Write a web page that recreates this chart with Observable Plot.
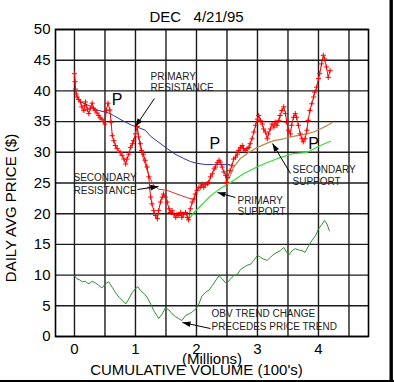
<!DOCTYPE html>
<html><head><meta charset="utf-8">
<script src="https://cdn.jsdelivr.net/npm/d3@7"></script>
<script src="https://cdn.jsdelivr.net/npm/@observablehq/plot@0.6"></script>
<style>body{margin:0;background:#fff}#chart svg{display:block}</style>
</head><body><div id="chart"></div>
<script>
// ---- data (cumulative volume in millions, price in $) ----
const priceVol = [0.00,0.01,0.016,0.03,0.044,0.07,0.098,0.12,0.153,0.17,0.18,0.21,0.235,0.26,0.29,0.31,0.34,0.37,0.40,0.42,0.45,0.48,0.50,0.52,0.55,0.58,0.60,0.62,0.645,0.67,0.70,0.75,0.78,0.81,0.84,0.86,0.89,0.92,0.95,0.97,1.00,1.03,1.05,1.08,1.10,1.13,1.16,1.19,1.22,1.23,1.25,1.27,1.30,1.33,1.36,1.38,1.41,1.44,1.46,1.49,1.52,1.55,1.57,1.60,1.63,1.66,1.68,1.71,1.74,1.76,1.79,1.82,1.85,1.87,1.90,1.93,1.96,1.98,2.01,2.04,2.07,2.09,2.12,2.15,2.18,2.20,2.23,2.26,2.29,2.31,2.34,2.37,2.39,2.42,2.45,2.48,2.49,2.51,2.55,2.58,2.61,2.64,2.67,2.69,2.72,2.75,2.77,2.80,2.83,2.86,2.88,2.91,2.94,2.97,3.00,3.02,3.05,3.08,3.10,3.13,3.16,3.18,3.21,3.24,3.27,3.29,3.32,3.35,3.37,3.40,3.43,3.46,3.48,3.51,3.54,3.56,3.59,3.62,3.64,3.67,3.70,3.73,3.75,3.78,3.81,3.83,3.86,3.89,3.92,3.94,3.97,4.00,4.02,4.05,4.08,4.10,4.13,4.16,4.19];
const priceVal = [42.8,41.5,40.3,39.5,39.0,38.6,38.2,37.4,36.8,37.6,38.2,37.0,36.3,37.2,38.0,37.2,36.8,36.4,36.0,35.6,35.4,35.0,34.6,36.8,38.0,36.9,34.9,32.7,31.9,31.1,30.6,30.0,29.5,28.9,28.1,28.9,29.7,30.8,31.4,31.9,33.0,34.2,32.5,31.4,30.3,29.7,28.7,27.6,26.0,24.3,22.7,21.6,20.5,19.7,19.2,20.5,21.9,22.7,23.2,22.7,21.9,20.8,20.2,20.5,19.9,19.4,19.9,19.7,20.2,19.4,19.9,20.2,19.4,19.0,20.8,21.9,22.4,23.2,23.8,24.3,24.3,24.8,24.3,24.8,24.9,25.1,26.0,26.5,27.3,27.6,28.3,28.7,28.4,27.6,26.8,26.2,25.1,25.9,27.0,27.8,28.9,29.2,29.7,30.3,30.8,31.1,30.6,30.3,30.6,30.8,31.4,32.2,33.3,34.4,35.4,36.0,35.2,34.6,33.8,33.3,32.2,33.0,33.8,34.6,34.1,34.9,34.4,35.2,36.0,36.8,37.4,36.3,34.9,33.6,33.0,34.4,35.7,36.3,35.7,34.4,33.0,32.2,31.7,32.2,33.6,35.2,36.8,37.9,39.0,39.8,40.6,42.0,42.8,44.4,45.8,45.2,43.9,42.2,43.3];

const primResVol = [0.06,0.10,0.24,0.40,0.56,0.64,0.78,0.94,1.03,1.16,1.25,1.33,1.52,1.65,1.79,1.90,2.01,2.15,2.28,2.55];
const primResVal = [38.8,38.2,37.6,36.8,36.4,36.0,35.2,34.4,34.1,33.6,32.6,32.0,30.6,29.7,29.0,28.5,28.2,28.0,28.0,28.0];

const secResVol = [1.03,1.08,1.12,1.16,1.22,1.30,1.38,1.52,1.68,1.85,1.96];
const secResVal = [33.8,30.8,29.2,28.1,26.2,24.6,24.0,23.8,23.2,22.6,22.3];

const primSupVol = [1.87,1.96,2.07,2.23,2.39,2.56,2.77,3.05,3.33,3.59,3.82,4.03,4.20];
const primSupVal = [19.0,20.2,21.3,22.9,24.1,25.1,26.5,27.9,29.0,29.8,30.0,31.1,31.8];

const secSupVol = [2.53,2.61,2.72,2.86,3.00,3.16,3.27,3.43,3.54,3.70,3.81,3.92,4.03,4.13,4.23];
const secSupVal = [25.6,27.6,29.0,30.0,30.8,31.5,31.9,32.2,32.5,32.8,33.0,33.3,33.8,34.3,34.9];

const obvVol = [0.00,0.04,0.09,0.13,0.18,0.21,0.24,0.29,0.35,0.40,0.45,0.51,0.56,0.62,0.67,0.73,0.78,0.84,0.89,0.95,1.00,1.04,1.08,1.14,1.19,1.25,1.30,1.36,1.38,1.44,1.49,1.55,1.60,1.66,1.71,1.76,1.82,1.88,1.93,1.99,2.04,2.09,2.15,2.21,2.26,2.32,2.37,2.42,2.49,2.56,2.61,2.67,2.72,2.78,2.83,2.89,2.94,3.00,3.05,3.10,3.16,3.21,3.27,3.32,3.38,3.43,3.48,3.51,3.57,3.62,3.67,3.73,3.78,3.84,3.89,3.95,4.00,4.06,4.10,4.14,4.18];
const obvVal = [9.9,9.4,9.2,8.9,9.0,8.7,8.6,9.0,8.7,8.3,7.9,8.6,8.9,8.0,7.2,6.4,5.9,5.3,6.1,7.2,7.8,8.1,7.5,7.0,6.4,5.3,4.2,3.3,2.9,3.7,4.7,4.3,3.7,3.2,2.9,2.6,3.4,3.7,4.0,4.5,5.3,6.6,7.2,7.6,8.3,9.2,9.9,9.4,8.6,9.4,9.9,10.1,10.9,11.3,11.6,11.8,12.4,13.2,12.9,12.6,12.4,12.9,13.4,13.7,14.0,14.5,13.7,13.2,14.0,14.3,14.1,14.0,13.7,14.8,15.6,16.4,17.5,18.3,18.9,18.3,17.2];

const yTicks = [0,5,10,15,20,25,30,35,40,45,50];
const xTicks = [0,1,2,3,4];
const xGrid = [0,0.5,1,1.5,2,2.5,3,3.5,4,4.5];

// annotations
const peakVol = [0.70,2.30,3.92];
const peakVal = [38.6,31.3,31.3];
const noteText = ["PRIMARY","RESISTANCE","SECONDARY","RESISTANCE","PRIMARY","SUPPORT","SECONDARY","SUPPORT","OBV TREND CHANGE","PRECEDES PRICE TREND"];
const noteVol  = [1.246,1.246,-0.016,-0.016,2.672,2.672,3.574,3.574,2.246,2.246];
const noteVal  = [42.35,40.55,25.9,23.8,22.15,20.36,27.2,25.24,3.75,1.63];
const arrFromVol = [1.311,1.033,2.639,3.541,2.23];
const arrFromVal = [38.76,23.94,22.64,26.55,1.30];
const arrToVol   = [1.0,1.377,2.344,3.246,1.77];
const arrToVal   = [34.2,24.43,23.45,31.43,2.28];

// ---- layout ----
const W = 394, H = 382, mL = 55, mR = 26, mT = 29, mB = 46;
const xDomain = [-0.311, 4.82];
const sx = d3.scaleLinear(xDomain, [mL, W - mR]);
const sy = d3.scaleLinear([0, 50], [H - mB, mT]);

const tbl = (xs, ys) => xs.map((x, i) => ({x, y: ys[i]}));
const price = tbl(priceVol, priceVal);
const arrows = arrFromVol.map((x1, i) => {
  const dx = sx(arrToVol[i]) - sx(x1), dy = sy(arrToVal[i]) - sy(arrFromVal[i]);
  return {x1, y1: arrFromVal[i], x2: arrToVol[i], y2: arrToVal[i], rot: Math.atan2(dx, -dy) * 180 / Math.PI};
});
const arrowHead = {draw(ctx) { ctx.moveTo(0, 0); ctx.lineTo(-2.8, 8); ctx.lineTo(2.8, 8); ctx.closePath(); }};

const font = "'Liberation Sans', Arial, Helvetica, sans-serif";
const plot = Plot.plot({
  width: W, height: H,
  marginLeft: mL, marginRight: mR, marginTop: mT, marginBottom: mB,
  x: {domain: xDomain}, y: {domain: [0, 50]},
  style: {fontFamily: font, background: "#fff", color: "#000"},
  marks: [
    Plot.gridX(xGrid, {stroke: "#1c1c1c", strokeOpacity: 1, strokeWidth: 1.4}),
    Plot.gridY(yTicks, {stroke: "#1c1c1c", strokeOpacity: 1, strokeWidth: 1.4}),
    Plot.frame({stroke: "#000", strokeWidth: 1.6}),
    Plot.axisY(yTicks, {tickSize: 0, tickPadding: 5, fontSize: 15, label: null, tickFormat: d => d}),
    Plot.axisX(xTicks, {tickSize: 0, tickPadding: 7, fontSize: 15, label: null, tickFormat: d => d}),
    Plot.line(tbl(obvVol, obvVal), {x: "x", y: "y", stroke: "#2f8f2f", strokeWidth: 1}),
    Plot.line(tbl(primResVol, primResVal), {x: "x", y: "y", stroke: "#33339a", strokeWidth: 1}),
    Plot.line(tbl(secResVol, secResVal), {x: "x", y: "y", stroke: "#dd3030", strokeWidth: 1}),
    Plot.line(tbl(primSupVol, primSupVal), {x: "x", y: "y", stroke: "#33dd33", strokeWidth: 1.2}),
    Plot.line(tbl(secSupVol, secSupVal), {x: "x", y: "y", stroke: "#b8894a", strokeWidth: 1.2}),
    Plot.line(price, {x: "x", y: "y", stroke: "#ff0000", strokeWidth: 1}),
    Plot.dot(price, {x: "x", y: "y", symbol: "plus", r: 1.8, stroke: "#ff0000", strokeWidth: 1}),
    Plot.link(arrows, {x1: "x1", y1: "y1", x2: "x2", y2: "y2", stroke: "#000", strokeWidth: 1}),
    Plot.dot(arrows, {x: "x2", y: "y2", symbol: arrowHead, rotate: "rot", fill: "#000", stroke: "none"}),
    Plot.text(noteText, {x: (d, i) => noteVol[i], y: (d, i) => noteVal[i], text: d => d, textAnchor: "start", lineAnchor: "middle", fontSize: 10, fill: "#222"}),
    Plot.text(peakVol, {x: d => d, y: (d, i) => peakVal[i], text: () => "P", fontSize: 16, lineAnchor: "middle", fill: "#000"}),
    Plot.text(["DEC\u00a0\u00a0\u00a04/21/95"], {frameAnchor: "top", textAnchor: "middle", dx: -15.5, dy: -12.5, lineAnchor: "middle", fontSize: 15, fill: "#000"}),
    Plot.text(["(Millions)"], {frameAnchor: "bottom", textAnchor: "middle", dx: 0, dy: 23, lineAnchor: "middle", fontSize: 15, fill: "#000"}),
    Plot.text(["CUMULATIVE VOLUME (100's)"], {frameAnchor: "bottom", textAnchor: "middle", dx: -15.5, dy: 33.5, lineAnchor: "middle", fontSize: 15, fill: "#000"}),
    Plot.text(["DAILY AVG PRICE ($)"], {frameAnchor: "left", textAnchor: "middle", dx: -44, dy: 25, rotate: -90, lineAnchor: "middle", fontSize: 15, fill: "#000"})
  ]
});
document.getElementById("chart").appendChild(plot);
const svg = d3.select(plot);
svg.append("line").attr("x1", 391.2).attr("x2", 391.2).attr("y1", 0).attr("y2", H).attr("stroke", "#000").attr("stroke-width", 3.4);
svg.append("line").attr("x1", 0).attr("x2", W).attr("y1", 381).attr("y2", 381).attr("stroke", "#000").attr("stroke-width", 2);
</script>
</body></html>
